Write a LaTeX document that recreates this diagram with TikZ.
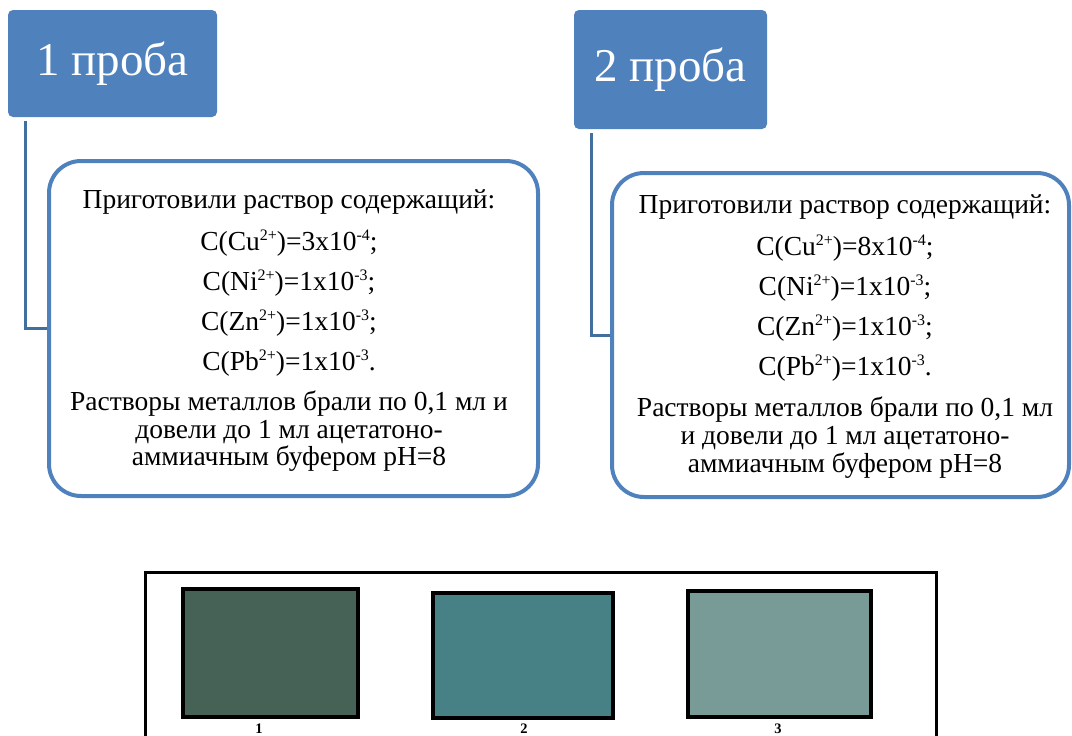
\documentclass[tikz,border=0pt]{standalone}
\usepackage{fontspec}
\setmainfont{LiberationSerif}[Extension=.ttf, UprightFont=*-Regular, BoldFont=*-Bold, ItalicFont=*-Italic, BoldItalicFont=*-BoldItalic]
\definecolor{hdrblue}{HTML}{4F81BD}
\definecolor{linkblue}{HTML}{41709F}
\definecolor{swA}{HTML}{466156}
\definecolor{swB}{HTML}{478186}
\definecolor{swC}{HTML}{789B97}
% small raised text for charges and exponents
\newcommand{\raisedsmall}[1]{\raisebox{0.36em}{\fontsize{16}{16}\selectfont #1}}
\newcommand{\conc}[3]{C(#1\raisedsmall{2+})=#2x10\raisedsmall{#3}}
\begin{document}
\begin{tikzpicture}[x=1pt,y=-1pt,
  hdr/.style={fill=hdrblue, rounded corners=5pt, inner sep=0pt,
    text=white, font=\fontsize{47}{50}\selectfont},
  card/.style={draw=hdrblue, line width=4pt, fill=white, rounded corners=32pt, inner sep=0pt},
  cardtext/.style={anchor=north, inner sep=0pt, align=center,
    font=\fontsize{27.5}{40}\selectfont},
  link/.style={draw=linkblue, line width=3pt},
  panel/.style={draw=black, line width=3pt, inner sep=0pt},
  swatch/.style={draw=black, line width=4pt, inner sep=0pt},
  swlabel/.style={inner sep=0pt, font=\bfseries\fontsize{14.5}{14.5}\selectfont}]
\useasboundingbox (0,0) rectangle (1072,736);

% headers
\node[hdr, minimum width=209pt, minimum height=107pt] (title1) at (112.5,63.5) {1 проба};
\node[hdr, minimum width=193pt, minimum height=119pt] (title2) at (670.5,69.5) {2 проба};

% cards
\node[card, minimum width=489pt, minimum height=335pt] (card1) at (293.5,328.5) {};
\node[card, minimum width=457pt, minimum height=324pt] (card2) at (840.5,335) {};

% connectors from header to card
\draw[link] ([xshift=18pt,yshift=-4pt]title1.south west) |- (card1.west);
\draw[link] ([xshift=18pt,yshift=-4pt]title2.south west) |- (card2.west);

% card contents
\node[cardtext] (text1) at (289,189) {%
  Приготовили раствор содержащий:\\[2pt]
  \conc{Cu}{3}{-4};\\
  \conc{Ni}{1}{-3};\\
  \conc{Zn}{1}{-3};\\
  \conc{Pb}{1}{-3}.\\
  Растворы металлов брали по 0,1 мл и\\[-12pt]
  довели до 1 мл ацетатоно-\\[-13pt]
  аммиачным буфером pH=8};
\node[cardtext] (text2) at (845,194) {%
  Приготовили раствор содержащий:\\[2pt]
  \conc{Cu}{8}{-4};\\
  \conc{Ni}{1}{-3};\\
  \conc{Zn}{1}{-3};\\
  \conc{Pb}{1}{-3}.\\[1pt]
  Растворы металлов брали по 0,1 мл\\[-12pt]
  и довели до 1 мл ацетатоно-\\[-12pt]
  аммиачным буфером pH=8};

% colour samples
\node[panel, minimum width=791pt, minimum height=176pt] (frame) at (540.5,660) {};
\node[swatch, fill=swA, minimum width=175pt, minimum height=128pt] (sw1) at (270.5,653) {};
\node[swatch, fill=swB, minimum width=180pt, minimum height=125pt] (sw2) at (523,655.5) {};
\node[swatch, fill=swC, minimum width=183pt, minimum height=126pt] (sw3) at (779.5,654) {};
\node[swlabel] (lab1) at (259,729) {1};
\node[swlabel] (lab2) at (524,729) {2};
\node[swlabel] (lab3) at (778,729) {3};
\end{tikzpicture}
\end{document}
